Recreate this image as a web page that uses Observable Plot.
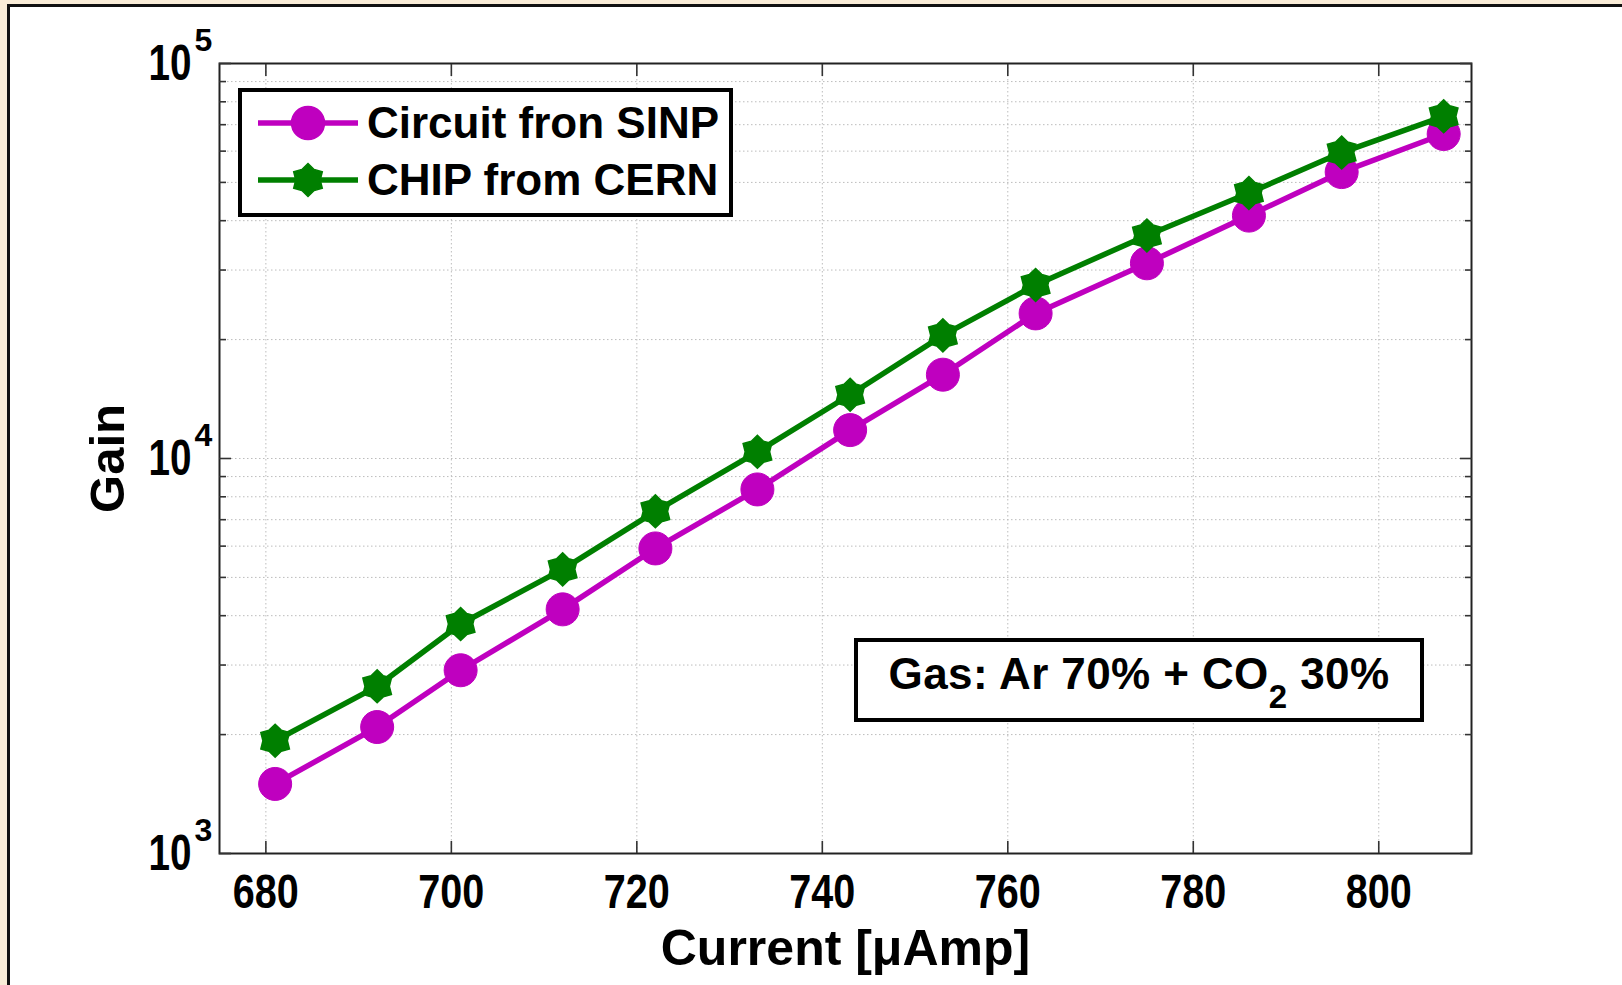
<!DOCTYPE html>
<html><head><meta charset="utf-8">
<script src="https://cdn.jsdelivr.net/npm/d3@7"></script>
<script src="https://cdn.jsdelivr.net/npm/@observablehq/plot@0.6"></script>
<style>
html,body{margin:0;padding:0;}
body{background:#f9ecd7;width:1622px;height:985px;overflow:hidden;position:relative;font-family:"Liberation Sans",Arial,sans-serif;font-weight:bold;}
#wrap{position:absolute;left:7px;top:4px;width:1612px;height:978px;border-left:3px solid #111;border-top:3px solid #111;background:#fff;overflow:hidden;}
#chart{position:absolute;left:0;top:0;}
#legend{position:absolute;left:228px;top:81px;width:495px;height:129px;box-sizing:border-box;border:4px solid #000;background:#fff;}
.row{position:absolute;left:16px;height:50px;display:flex;align-items:center;}
.row svg{display:block;}
.row span{margin-left:9px;font-size:44px;line-height:50px;color:#000;white-space:nowrap;}
#gas{position:absolute;left:844px;top:631px;width:570px;height:84px;box-sizing:border-box;border:4px solid #000;background:#fff;text-align:center;padding-top:10px;font-size:44px;letter-spacing:0.4px;line-height:44px;color:#000;white-space:nowrap;}
#gas sub{font-size:33px;vertical-align:-19px;line-height:0;}
</style></head>
<body>
<div id="wrap">
  <div id="chart"></div>
  <div id="legend"></div>
  <div id="gas">Gas: Ar 70% + CO<sub>2</sub> 30%</div>
</div>
<script>
// ---- data ----
const current = [681, 692, 701, 712, 722, 733, 743, 753, 763, 775, 786, 796, 807];
const gainSINP = [1500, 2090, 2910, 4150, 5920, 8350, 11800, 16300, 23300, 31200, 41200, 53100, 66300];
const gainCERN = [1930, 2650, 3810, 5240, 7350, 10400, 14500, 20500, 27500, 36700, 47000, 59500, 73500];
const seriesNames = ["Circuit fron SINP", "CHIP from CERN"];
const seriesColors = ["#bf00bf", "#007f00"];
const xTicks = [680, 700, 720, 740, 760, 780, 800];
const yTicks = [1e3, 1e4, 1e5];
const yTickBase = ["10", "10", "10"];
const yTickExponents = ["3", "4", "5"];
const yMinor = [2e3, 3e3, 4e3, 5e3, 6e3, 7e3, 8e3, 9e3, 2e4, 3e4, 4e4, 5e4, 6e4, 7e4, 8e4, 9e4];
const xLabel = "Current [\u03bcAmp]";
const yLabel = "Gain";

const sinp = current.map((c, i) => ({current: c, gain: gainSINP[i]}));
const cern = current.map((c, i) => ({current: c, gain: gainCERN[i]}));

// six-pointed star (hexagram) symbol
const hexagram = {
  draw(context, size) {
    const R = Math.sqrt(size / Math.PI);
    const r = R * 0.74;
    for (let i = 0; i < 12; i++) {
      const a = i * Math.PI / 6 - Math.PI / 2;
      const rad = i % 2 === 0 ? R : r;
      const x = rad * Math.cos(a), y = rad * Math.sin(a);
      if (i === 0) context.moveTo(x, y); else context.lineTo(x, y);
    }
    context.closePath();
  }
};

const sans = "'Liberation Sans', Arial, sans-serif";
const gridStyle = {stroke: "#bcbcbc", strokeOpacity: 1, strokeWidth: 1, strokeDasharray: "1.5,2.5"};
const tickStyle = {stroke: "#333", strokeWidth: 1.6, tickFormat: () => "", label: null};
const circleR = 16.5, starR = 16.5;

const chart = Plot.plot({
  width: 1612,
  height: 978,
  marginLeft: 209,
  marginTop: 56,
  marginRight: 151,
  marginBottom: 132,
  style: {background: "transparent", overflow: "visible", color: "#000"},
  x: {domain: [675, 810], label: null},
  y: {type: "log", domain: [1e3, 1e5], label: null},
  marks: [
    Plot.gridX(xTicks, gridStyle),
    Plot.gridY(yMinor.concat([1e4]), gridStyle),
    Plot.frame({stroke: "#222", strokeWidth: 2}),
    Plot.axisX(xTicks, {anchor: "bottom", tickSize: -12, tickPadding: 32, stroke: "#333", strokeWidth: 1.6,
      fontSize: 49, fontWeight: "bold", fontFamily: sans, label: null}),
    Plot.axisX(xTicks, {anchor: "top", tickSize: -12, ...tickStyle}),
    Plot.axisY(yTicks, {anchor: "left", tickSize: -12, ...tickStyle}),
    Plot.axisY(yTicks, {anchor: "right", tickSize: -12, ...tickStyle}),
    Plot.axisY(yMinor, {anchor: "left", tickSize: -7, ...tickStyle}),
    Plot.axisY(yMinor, {anchor: "right", tickSize: -7, ...tickStyle}),
    Plot.text(yTicks, {y: d => d, frameAnchor: "left", text: (d, i) => yTickBase[i], dx: -71, textAnchor: "start",
      lineAnchor: "middle", fontSize: 50, fontWeight: "bold", fontFamily: sans, fill: "#000"}),
    Plot.text(yTicks, {y: d => d, frameAnchor: "left", text: (d, i) => yTickExponents[i], dx: -25, dy: -23,
      textAnchor: "start", lineAnchor: "middle", fontSize: 32, fontWeight: "bold", fontFamily: sans, fill: "#000"}),
    Plot.line(sinp, {x: "current", y: "gain", stroke: seriesColors[0], strokeWidth: 5.5}),
    Plot.dot(sinp, {x: "current", y: "gain", r: circleR, fill: seriesColors[0], stroke: seriesColors[0], strokeWidth: 1}),
    Plot.line(cern, {x: "current", y: "gain", stroke: seriesColors[1], strokeWidth: 5.5}),
    Plot.dot(cern, {x: "current", y: "gain", r: starR, symbol: hexagram, fill: seriesColors[1], stroke: seriesColors[1], strokeWidth: 1.5}),
    Plot.text([xLabel], {text: d => d, frameAnchor: "bottom", dy: 111, lineAnchor: "bottom", textAnchor: "middle",
      fontSize: 50, fontWeight: "bold", fontFamily: sans, fill: "#000"}),
    Plot.text([yLabel], {text: d => d, frameAnchor: "left", dx: -96, rotate: -90, lineAnchor: "bottom", textAnchor: "middle",
      fontSize: 49, fontWeight: "bold", fontFamily: sans, fill: "#000"})
  ]
});
document.getElementById("chart").appendChild(chart);

// condense the tick-label glyphs like the reference's narrow numerals
const svg = d3.select(chart);
svg.selectAll('g[aria-label="x-axis tick label"] text')
  .attr("textLength", 66).attr("lengthAdjust", "spacingAndGlyphs");
svg.selectAll("text").filter(function () { return yTickBase.includes(this.textContent); })
  .each(function () {
    const t = this.getAttribute("transform");
    if (t && /translate/.test(t)) {
      const w = this.getComputedTextLength() || 55.6;
      this.setAttribute("transform", t + ` scale(${(43 / w).toFixed(4)},1)`);
    } else {
      this.setAttribute("textLength", 43);
      this.setAttribute("lengthAdjust", "spacingAndGlyphs");
    }
  });

// legend
const legend = document.getElementById("legend");
const symbolPaths = [d3.symbol(d3.symbolCircle, circleR * circleR * Math.PI)(), d3.symbol(hexagram, starR * starR * Math.PI)()];
seriesNames.forEach((name, i) => {
  const row = document.createElement("div");
  row.className = "row";
  row.style.top = (6 + i * 57) + "px";
  row.innerHTML = `<svg width="100" height="50" viewBox="0 0 100 50">
      <line x1="0" x2="100" y1="25" y2="25" stroke="${seriesColors[i]}" stroke-width="5.5"/>
      <path transform="translate(50,25)" d="${symbolPaths[i]}" fill="${seriesColors[i]}" stroke="${seriesColors[i]}" stroke-width="1.5"/>
    </svg><span>${name}</span>`;
  legend.appendChild(row);
});
</script>
</body></html>
